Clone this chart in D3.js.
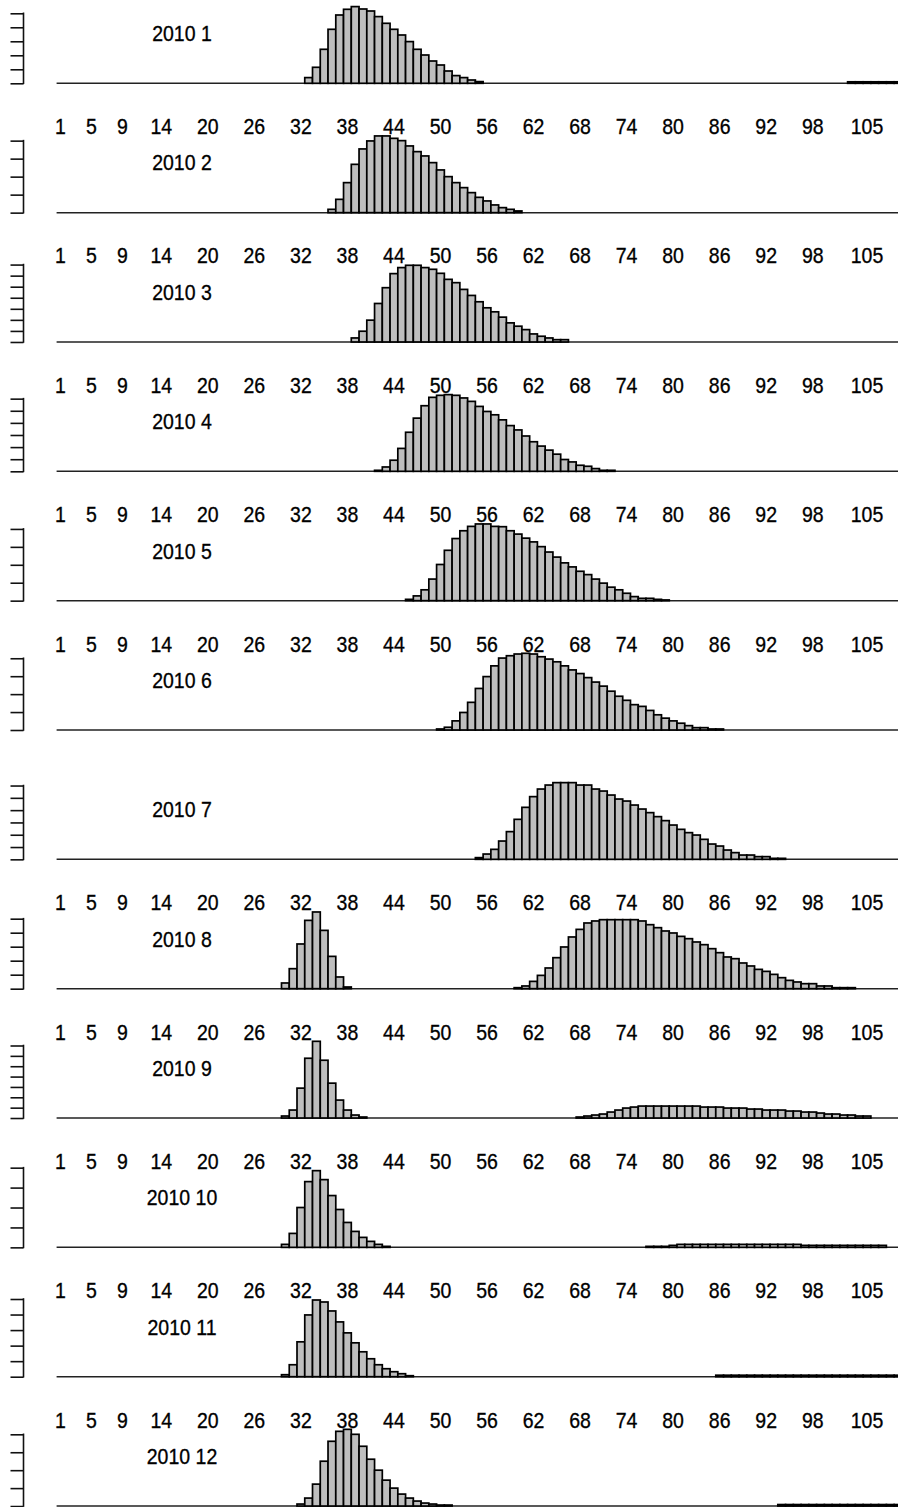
<!DOCTYPE html>
<html>
<head>
<meta charset="utf-8">
<script src="https://cdnjs.cloudflare.com/ajax/libs/d3/7.8.5/d3.min.js"></script>
<style>
  body { margin: 0; background: #fff; }
  text { font-family: "Liberation Sans", Arial, sans-serif; fill: #000; stroke: #000; stroke-width: 0.3; }
</style>
</head>
<body>
<div id="chart"></div>
<script>
// Panel titles and x tick labels (bin numbers)
const months = ["2010 1", "2010 2", "2010 3", "2010 4", "2010 5", "2010 6",
                "2010 7", "2010 8", "2010 9", "2010 10", "2010 11", "2010 12"];
const xLabels = [1, 5, 9, 14, 20, 26, 32, 38, 44, 50, 56, 62, 68, 74, 80, 86, 92, 98, 105];
const showLabels = [true, true, true, true, true, false, true, true, true, true, true, false];
const nBins = 110;

// y tick step for each panel (same units as the values)
const yStep = [14, 18, 11, 12, 17.7, 17.7, 12.3, 14, 10.4, 20, 15.6, 18];

// Each month: list of [first bin, values...] runs; bins not listed are 0
const m01 = [[33, [5.7, 16, 34, 54, 68.3, 74, 76.7, 74.3, 72.3, 66.7, 60, 54, 48.3, 41.7, 34, 28.3, 22.3, 18.3, 12.3, 7.7, 5.7, 3.3, 1.7]],
             [103, [1.5, 1.5, 1.5, 1.5, 1.5, 1.5, 1.5, 1.5]]];
const m02 = [[36, [3.3, 13.3, 30, 48.3, 63.7, 71.7, 76.7, 76.7, 74.3, 72, 66.7, 61, 56.7, 50, 42.7, 36, 30, 25, 20, 15.3, 11.7, 7.7, 5, 3.3, 1.7]]];
const m03 = [[39, [4, 10.7, 21.7, 38.3, 54, 68, 74, 76.3, 76.3, 74, 72.3, 68.3, 62.3, 59, 52.3, 46.3, 40, 34, 30, 24.7, 19, 15.7, 12.3, 8, 5.7, 4, 2.3, 2.3]]];
const m04 = [[42, [1, 4.3, 11, 22.7, 38.7, 52.7, 65, 73.3, 75.3, 76, 75.3, 72.7, 69.3, 64.3, 59.3, 56, 51, 45.3, 41, 35, 29.3, 25, 21, 17, 11.7, 9.3, 6, 5, 2.7, 1, 1]]];
const m05 = [[46, [1.3, 4.7, 10.7, 21.3, 35.7, 49.7, 61.3, 69, 73.3, 75.7, 75.7, 73.3, 73, 69, 65.7, 61.7, 58, 53.3, 48, 43, 37.3, 33.3, 29, 25.7, 21.3, 17.3, 13.3, 10.7, 7.3, 4, 2.3, 2.3, 1.3, 0.7]]];
const m06 = [[50, [1, 2.7, 9, 17.3, 27.3, 41, 52.7, 63.3, 71, 73.3, 75, 75.7, 75, 72.3, 70, 67.3, 63.3, 59.3, 55.7, 51.7, 47.3, 43.3, 38.3, 33.3, 29.3, 25, 23.3, 19.3, 15, 11.7, 9, 6.7, 4.3, 2.3, 2.3, 1, 1]]];
const m07 = [[55, [1.7, 5.3, 10, 18.3, 27.7, 40, 52, 62.7, 70.3, 74.3, 76.7, 76.7, 76.7, 74.3, 74.3, 70.3, 68.3, 64.3, 60.3, 58.3, 54.3, 50.3, 46.7, 42.7, 38.7, 34.3, 30, 26.7, 24.3, 20, 15.3, 13.3, 9.3, 6.7, 4.3, 4.3, 2.7, 2.7, 1, 1]]];
const m08 = [[30, [5.7, 20, 44.7, 68.3, 76.7, 58.3, 32.3, 11.7, 1.7]],
             [60, [1, 2.7, 7.3, 13.3, 20.7, 31, 41.7, 51.7, 59.3, 65.7, 67.7, 69, 69, 69, 69, 69, 67.7, 64, 61, 57.7, 55.7, 52.3, 50, 46.7, 44, 40, 36, 31.7, 30, 25.7, 22.7, 19.3, 17.3, 14.3, 11, 8.3, 6.7, 5, 5, 2.7, 2.7, 1, 1, 1]]];
const m09 = [[30, [2, 8, 30, 60, 77, 58, 35, 18, 8, 3, 1]],
             [68, [1, 2, 3, 4, 6, 8, 10, 11, 12, 12, 12, 12, 12, 12, 12, 12, 11, 11, 11, 10, 10, 10, 9, 9, 8, 8, 8, 7, 7, 6, 6, 5, 4, 4, 3, 3, 2, 2]]];
const m10 = [[30, [3, 14, 40, 66, 77, 68, 52, 38, 25, 16, 10, 6, 3, 1]],
             [77, [1, 1, 1, 2, 3, 3, 3, 3, 3, 3, 3, 3, 3, 3, 3, 3, 3, 3, 3, 3, 2, 2, 2, 2, 2, 2, 2, 2, 2, 2, 2]]];
const m11 = [[30, [2, 12, 35, 62, 77, 75, 66, 55, 44, 34, 25, 18, 12, 8, 5, 3, 1]],
             [86, [1.5, 1.5, 1.5, 1.5, 1.5, 1.5, 1.5, 1.5, 1.5, 1.5, 1.5, 1.5, 1.5, 1.5, 1.5, 1.5, 1.5, 1.5, 1.5, 1.5, 1.5, 1.5, 1.5, 1.5, 1.5]]];
const m12 = [[32, [2, 8, 22, 45, 65, 75, 77, 72, 60, 47, 36, 26, 18, 12, 8, 5, 3, 2, 1, 1]],
             [94, [1.5, 1.5, 1.5, 1.5, 1.5, 1.5, 1.5, 1.5, 1.5, 1.5, 1.5, 1.5, 1.5, 1.5, 1.5, 1.5, 1.5]]];

const monthData = [m01, m02, m03, m04, m05, m06, m07, m08, m09, m10, m11, m12];

// Set up dimensions
const width = 898, height = 1507;
const firstBase = 83.3, panelStep = 129.34, barArea = 76.7;
const axisX = 23.5, tickLen = 13;

const svg = d3.select("#chart")
    .append("svg")
    .attr("width", width)
    .attr("height", height);

const xScale = d3.scaleBand()
    .domain(d3.range(1, nBins + 1))
    .range([56.6, 56.6 + nBins * 7.755])
    .padding(0);

// text slightly stretched vertically, like the original rendering
function label(g, x, y, s) {
    return g.append("text")
        .attr("transform", `translate(${x},${y}) scale(1,1.1)`)
        .attr("text-anchor", "middle")
        .attr("dominant-baseline", "central")
        .attr("font-size", 19.5)
        .text(s);
}

monthData.forEach((runs, k) => {
    const base = firstBase + k * panelStep;
    const bars = runs.flatMap(([start, vals]) => vals.map((v, i) => ({bin: start + i, v})));
    const maxV = d3.max(bars, d => d.v);

    const yScale = d3.scaleLinear()
        .domain([0, maxV])
        .range([base, base - barArea]);

    const g = svg.append("g");

    // zero bars -> baseline
    g.append("line")
        .attr("x1", xScale(1))
        .attr("x2", xScale(nBins) + xScale.bandwidth())
        .attr("y1", yScale(0))
        .attr("y2", yScale(0))
        .attr("stroke", "#222")
        .attr("stroke-width", 1.5);

    g.selectAll("rect")
        .data(bars)
        .enter()
        .append("rect")
        .attr("x", d => xScale(d.bin))
        .attr("width", xScale.bandwidth())
        .attr("y", d => yScale(d.v))
        .attr("height", d => yScale(0) - yScale(d.v))
        .attr("fill", "#bebebe")
        .attr("stroke", "#000")
        .attr("stroke-width", 1.7);

    // y axis (labels fall outside the picture)
    const ticks = d3.range(0, maxV * 1.04 + 1e-9, yStep[k]);
    const yAxis = g.append("g")
        .attr("transform", `translate(${axisX},0)`)
        .call(d3.axisLeft(yScale).tickValues(ticks).tickSize(tickLen).tickSizeOuter(0).tickFormat(""));
    yAxis.select(".domain").remove();
    yAxis.selectAll(".tick line").attr("stroke", "#111").attr("stroke-width", 1.6);
    yAxis.append("line")
        .attr("x1", 0).attr("x2", 0)
        .attr("y1", yScale(0) + 0.8).attr("y2", yScale(ticks[ticks.length - 1]) - 0.8)
        .attr("stroke", "#111")
        .attr("stroke-width", 1.6);

    // title
    label(g, 182, base - 50, months[k]);

    // x labels
    if (showLabels[k]) {
        xLabels.forEach(d => label(g, xScale(d) + xScale.bandwidth() / 2, base + 43, d));
    }
});
</script>
</body>
</html>
